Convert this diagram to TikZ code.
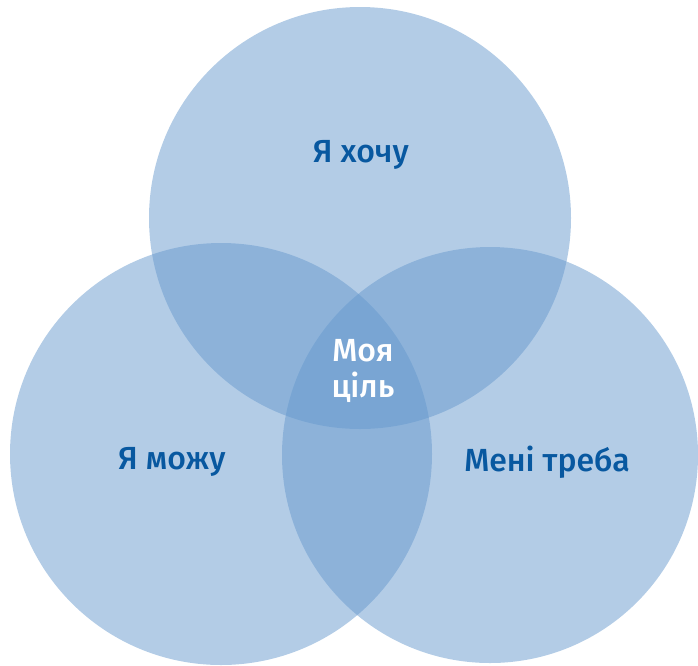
\documentclass[tikz,border=0pt]{standalone}
\usepackage{fontspec}
\setmainfont{Fira Sans}[UprightFont=*-Medium]
\definecolor{circblue}{RGB}{103,153,205}
\definecolor{textblue}{RGB}{8,88,160}

\begin{document}
\begin{tikzpicture}[x=1pt,y=-1pt,
    circ/.style={fill=circblue,fill opacity=0.5},
    label/.style={text=textblue,font=\fontsize{32}{36}\selectfont,inner sep=0pt},
    goal/.style={text=white,font=\fontsize{32}{36}\selectfont,align=center,inner sep=0pt}]
    \useasboundingbox (0,0) rectangle (698,665);

    \coordinate (wantc) at (360,218);
    \coordinate (canc)  at (221,454);
    \coordinate (needc) at (490,455);

    \fill[circ] (wantc) circle (211);
    \fill[circ] (canc) circle (211);
    \fill[circ] (needc) circle (208);

    \node[label] at (361,155) (want) {Я хочу};
    \node[label] at (172,462) (can) {Я можу};
    \node[label] at (547,462) (need) {Мені треба};
    \node[goal]  at (363,371) (goal) {Моя\\ціль};
\end{tikzpicture}
\end{document}
